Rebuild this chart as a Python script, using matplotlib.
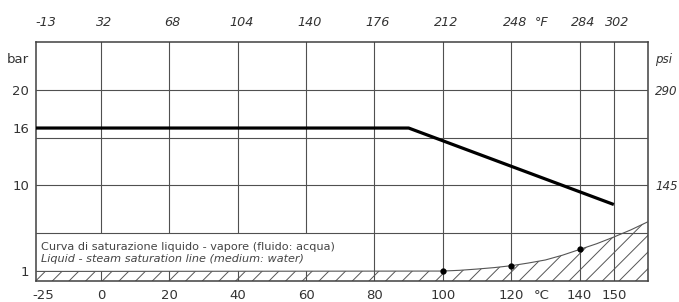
import matplotlib
matplotlib.use("Agg")
import matplotlib.pyplot as plt
from matplotlib.patches import Rectangle

# ---- data ----
x_min, x_max = -19, 160          # °C range of the plot area
y_min, y_max = 0, 25             # bar range
grid_c = [0, 20, 40, 60, 80, 100, 120, 140, 150]
grid_bar = [5, 10, 15, 20]

bottom_pos = [-17, 0, 20, 40, 60, 80, 100, 120, 129, 140, 150]
bottom_lbl = ['-25', '0', '20', '40', '60', '80', '100', '120', '°C', '140', '150']
top_pos = [-16, 1, 21, 41, 61, 81, 101, 121, 129, 141, 151]
top_lbl = ['-13', '32', '68', '104', '140', '176', '212', '248', '°F', '284', '302']

left_pos = [23.3, 20, 16, 10, 1]
left_lbl = ['bar', '20', '16', '10', '1']
right_pos = [23.3, 20, 10]
right_lbl = ['psi', '290', '145']

# max working pressure curve
mwp_t = [-19, 90, 150]
mwp_p = [16, 16, 8]

# saturation curve (water)
sat_t = [100, 105, 110, 115, 120, 125, 130, 135, 140, 145, 150, 155, 160]
sat_p = [1.04, 1.12, 1.25, 1.4, 1.6, 1.88, 2.2, 2.7, 3.3, 3.9, 4.6, 5.35, 6.2]
dot_t = [100, 120, 140]
dot_p = [1.04, 1.6, 3.3]

txt_it = 'Curva di saturazione liquido - vapore (fluido: acqua)'
txt_en = 'Liquid - steam saturation line (medium: water)'

# ---- figure ----
plt.rcParams['font.family'] = ['DejaVu Sans']
plt.rcParams['hatch.linewidth'] = 0.7
plt.rcParams['hatch.color'] = '#555555'

fig = plt.figure(figsize=(6.79, 3.02), dpi=100)
ax = fig.add_axes([36/679, 21/302, 612/679, 239/302])
ax.set_xlim(x_min, x_max)
ax.set_ylim(y_min, y_max)

gc = '#505050'
for s in ax.spines.values():
    s.set_color('#404040')
    s.set_linewidth(1.1)

for g in grid_c:
    ax.axvline(g, color=gc, lw=0.8, zorder=1)
for g in grid_bar:
    ax.axhline(g, color=gc, lw=0.8, zorder=3)

# white text box covering grid between 1 and 5 bar on the left
ax.add_patch(Rectangle((x_min, 1), 72 - x_min, 4, facecolor='white',
                       edgecolor='none', zorder=2))

# hatched saturation region
bx = [x_min] + sat_t
by = [1] + sat_p
ax.fill_between(bx, 0, by, facecolor='none', edgecolor='#555555',
                hatch='//', linewidth=0, zorder=2)
ax.plot(bx, by, color='#555555', lw=0.8, zorder=4)
ax.plot(dot_t, dot_p, 'o', color='black', ms=3.5, zorder=5)

# max pressure line
ax.plot(mwp_t, mwp_p, color='black', lw=2.3, zorder=6, solid_capstyle='butt')

ax.text(-17.5, 3.2, txt_it, fontsize=8.1, color='#444444', zorder=7)
ax.text(-17.5, 1.95, txt_en, fontsize=8.1, color='#444444', style='italic', zorder=7)

ax.set_xticks(bottom_pos)
ax.set_xticklabels(bottom_lbl)
ax.tick_params(axis='x', length=0, pad=6, labelsize=9.5, labelcolor='#333333')
ax.set_yticks(left_pos)
ax.set_yticklabels(left_lbl)
ax.tick_params(axis='y', length=0, pad=5, labelsize=9.5, labelcolor='#333333')

axt = ax.twiny()
axt.set_xlim(x_min, x_max)
axt.set_xticks(top_pos)
axt.set_xticklabels(top_lbl, style='italic')
axt.tick_params(axis='x', length=0, pad=9, labelsize=9.2, labelcolor='#333333')

axr = ax.twinx()
axr.set_ylim(y_min, y_max)
axr.set_yticks(right_pos)
axr.set_yticklabels(right_lbl, style='italic')
axr.tick_params(axis='y', length=0, pad=5, labelsize=8.6, labelcolor='#333333')
for a in (axt, axr):
    for s in a.spines.values():
        s.set_visible(False)

fig.savefig('out.png', dpi=100)
